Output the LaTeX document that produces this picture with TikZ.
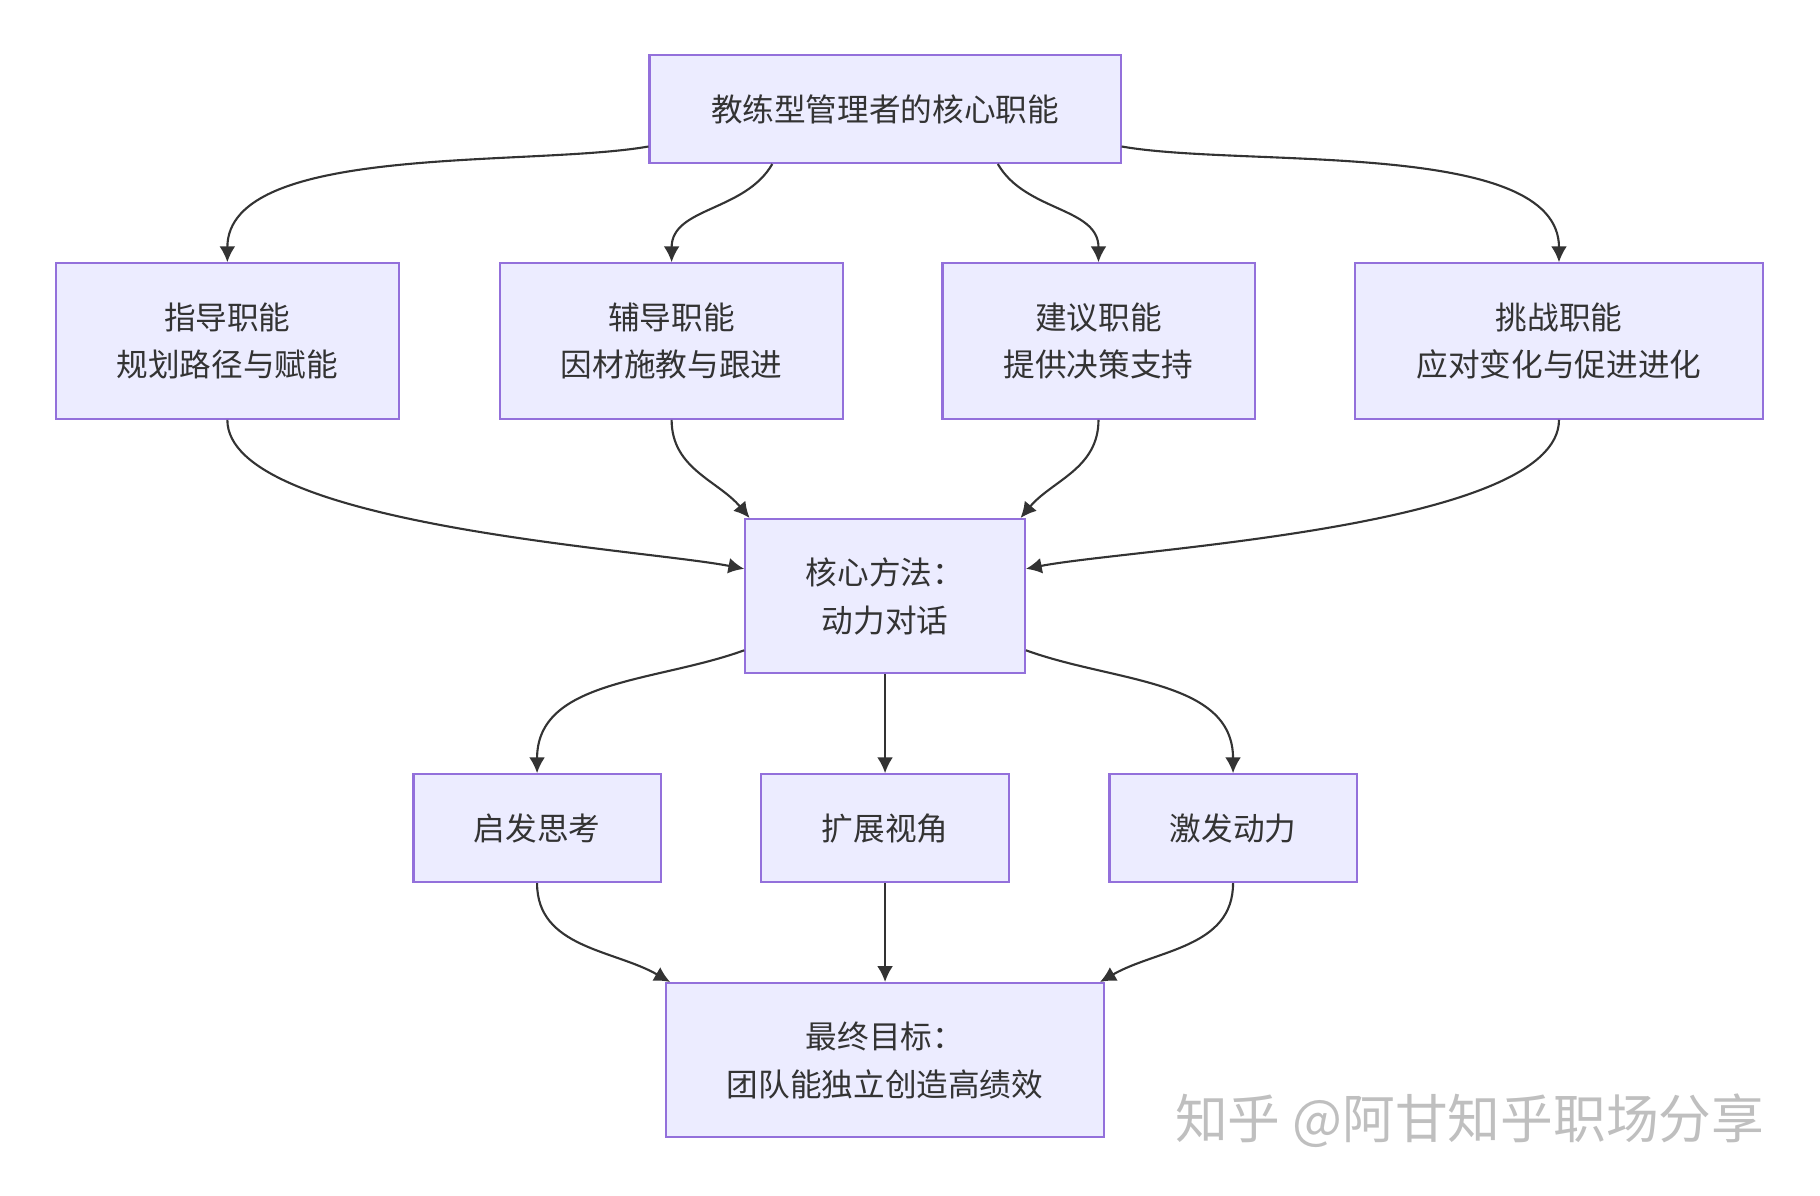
\documentclass[tikz,border=0pt]{standalone}
\usepackage{fontspec}
\setmainfont{Noto Sans CJK SC}
\usetikzlibrary{positioning,arrows.meta}
\definecolor{boxfill}{HTML}{ECECFF}
\definecolor{boxline}{HTML}{9370DB}
\definecolor{edgecol}{HTML}{333333}
\tikzset{
	box/.style={draw=boxline,fill=boxfill,line width=0.6pt,align=center,inner sep=0pt,
		font=\fontsize{9}{13.6}\selectfont,text=edgecol},
	flow/.style={draw=edgecol,line width=0.6pt,-{Latex[length=4.5pt,width=4.5pt]}}
}
\begin{document}
\begin{tikzpicture}[x=0.0116cm,y=-0.0116cm]
	\useasboundingbox (0,0) rectangle (1569,1031);
	\node[box,minimum width=406*0.116mm,minimum height=93*0.116mm] (top) at (763,94) {教练型管理者的核心职能};
	\node[box,minimum width=296*0.116mm,minimum height=134*0.116mm] (guide) at (196,294) {指导职能\\规划路径与赋能};
	\node[box,minimum width=296*0.116mm,minimum height=134*0.116mm] (tutor) at (579,294) {辅导职能\\因材施教与跟进};
	\node[box,minimum width=269*0.116mm,minimum height=134*0.116mm] (advise) at (947,294) {建议职能\\提供决策支持};
	\node[box,minimum width=352*0.116mm,minimum height=134*0.116mm] (challenge) at (1344,294) {挑战职能\\应对变化与促进进化};
	\node[box,minimum width=241*0.116mm,minimum height=133*0.116mm] (core) at (763,514) {核心方法：\\动力对话};
	\node[box,minimum width=213*0.116mm,minimum height=93*0.116mm] (think) at (463,714) {启发思考};
	\node[box,minimum width=214*0.116mm,minimum height=93*0.116mm] (view) at (763,714) {扩展视角};
	\node[box,minimum width=213*0.116mm,minimum height=93*0.116mm] (drive) at (1063,714) {激发动力};
	\node[box,minimum width=378*0.116mm,minimum height=133*0.116mm] (goal) at (763,914) {最终目标：\\团队能独立创造高绩效};
	\node[text=black!25,font=\fontsize{15}{18}\selectfont] (mark) at (1267,966) {知乎 @阿甘知乎职场分享};
	% 职能
	\draw[flow] (top.189) to[out=190,in=90,looseness=0.7] (guide.north);
	\draw[flow] (top.206) to[out=240,in=90] (tutor.north);
	\draw[flow] (top.334) to[out=300,in=90] (advise.north);
	\draw[flow] (top.351) to[out=350,in=90,looseness=0.7] (challenge.north);
	% 汇入动力对话
	\draw[flow] (guide.south) to[out=-90,in=169,looseness=0.5] (core.169);
	\draw[flow] (tutor.south) to[out=-90,in=130] (core.150);
	\draw[flow] (advise.south) to[out=-90,in=50] (core.30);
	\draw[flow] (challenge.south) to[out=-90,in=11,looseness=0.5] (core.11);
	% 方法
	\draw[flow] (core.201) to[out=200,in=90] (think.north);
	\draw[flow] (core.south) -- (view.north);
	\draw[flow] (core.339) to[out=340,in=90] (drive.north);
	% 目标
	\draw[flow] (think.south) to[out=-90,in=150] (goal.160);
	\draw[flow] (view.south) -- (goal.north);
	\draw[flow] (drive.south) to[out=-90,in=30] (goal.20);
\end{tikzpicture}
\end{document}
